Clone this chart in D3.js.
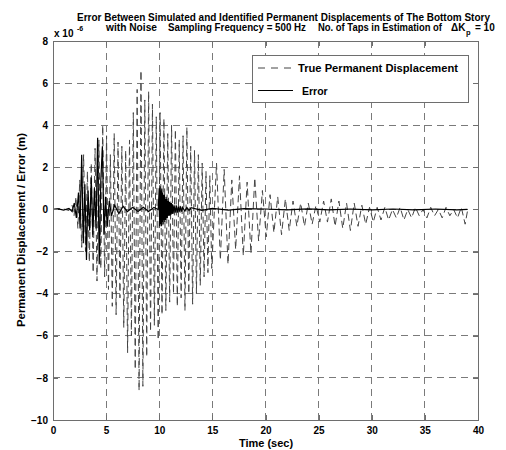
<!DOCTYPE html>
<html>
<head>
<meta charset="utf-8">
<script src="https://cdn.jsdelivr.net/npm/d3@7"></script>
<style>
  html, body { margin: 0; padding: 0; background: #fff; }
  svg { display: block; }
  text { font-family: "Liberation Sans", Arial, Helvetica, sans-serif; font-weight: bold; fill: #000; }
</style>
</head>
<body>
<svg id="chart" width="506" height="450"></svg>
<script>
// Axis ticks
const xTicks = [0, 5, 10, 15, 20, 25, 30, 35, 40];
const yTicks = [-10, -8, -6, -4, -2, 0, 2, 4, 6, 8];

// True permanent displacement (x 1e-6 m): alternating peaks/troughs of the response
const dispTime = [
  0.0, 0.8, 1.5,
  1.80, 1.98, 2.16, 2.34, 2.52, 2.70, 2.88, 3.06, 3.24, 3.42,
  3.60, 3.78, 3.96, 4.14, 4.32, 4.50, 4.68, 4.86, 5.04, 5.22,
  5.40, 5.58, 5.76, 5.94, 6.12, 6.30, 6.48, 6.66, 6.84, 7.02,
  7.20, 7.38, 7.56, 7.74, 7.92, 8.10, 8.28, 8.46, 8.64, 8.82,
  9.00, 9.18, 9.36, 9.54, 9.72, 9.90, 10.08, 10.26, 10.44, 10.62,
  10.80, 10.98, 11.16, 11.34, 11.52, 11.70, 11.88, 12.06, 12.24, 12.42,
  12.60, 12.78, 12.96, 13.14, 13.32, 13.50, 13.68, 13.86, 14.04, 14.22,
  14.40, 14.58, 14.76, 14.94,
  15.39, 15.75, 16.11, 16.47, 16.83, 17.19, 17.55, 17.91, 18.27, 18.63,
  18.99, 19.35, 19.71, 20.07, 20.43, 20.79, 21.15, 21.51, 21.87, 22.23,
  22.59, 22.95, 23.31, 23.67, 24.03, 24.39, 24.75, 25.11, 25.47, 25.83,
  26.19, 26.55, 26.91, 27.27, 27.63, 27.99, 28.35, 28.71, 29.07, 29.43,
  29.79, 30.15, 30.51, 30.87, 31.23, 31.59, 31.95, 32.31, 32.67, 33.03,
  33.39, 33.75, 34.11, 34.47, 34.83, 35.19, 35.55, 35.91, 36.27, 36.63,
  36.99, 37.35, 37.71, 38.07, 38.43, 38.79, 39.00
];
const dispValue = [
  0.0, 0.05, -0.05,
  0.2, -0.3, 0.6, -0.9, 1.4, -1.8, 2.6, -2.0, 1.8, -2.5,
  2.2, -3.0, 2.9, -3.4, 3.3, -2.8, 4.0, -3.2, 3.5, -3.8,
  2.6, -4.6, 3.6, -5.0, 3.2, -4.2, 3.0, -5.6, 2.8, -6.8,
  3.3, -6.0, 4.6, -7.6, 5.7, -8.6, 6.6, -8.4, 5.2, -7.0,
  5.6, -5.8, 5.0, -5.5, 4.4, -6.2, 4.6, -5.0, 4.3, -4.8,
  3.6, -4.4, 4.0, -4.0, 3.8, -4.6, 3.3, -4.2, 3.5, -4.8,
  3.9, -4.0, 3.0, -4.5, 2.8, -4.0, 2.6, -3.6, 2.2, -3.2,
  1.8, -3.0, 1.6, -2.8,
  2.2, -2.4, 1.9, -2.6, 1.4, -1.9, 1.6, -2.2, 1.3, -2.1,
  1.5, -1.5, 0.9, -1.3, 0.7, -1.1, 0.6, -1.2, 0.5, -1.0,
  0.4, -0.8, 0.3, -0.8, 0.3, -0.7, 0.2, -0.6, 0.4, -0.6,
  0.5, -0.8, 0.4, -0.9, 0.3, -1.0, 0.3, -0.8, 0.2, -0.7,
  0.1, -0.6, 0.1, -0.5, 0.1, -0.5, 0.0, -0.4, 0.1, -0.5,
  0.0, -0.4, 0.1, -0.3, 0.0, -0.4, 0.1, -0.3, 0.0, -0.4,
  0.1, -0.3, 0.0, -0.4, 0.1, -0.7, -0.1
];

// Identification error (x 1e-6 m)
const errTime = [
  0.0, 0.5, 1.0, 1.5, 1.8, 2.0, 2.2, 2.4, 2.55, 2.7,
  2.85, 3.0, 3.15, 3.3, 3.45, 3.6, 3.75, 3.9, 4.05, 4.2,
  4.35, 4.5, 4.65, 4.8, 4.95, 5.1, 5.3, 5.5, 5.8, 6.2,
  6.6, 7.0, 7.5, 8.0, 8.5, 9.0, 9.5, 9.9,
  10.00, 10.04, 10.08, 10.12, 10.16, 10.20, 10.24, 10.28, 10.32, 10.36,
  10.40, 10.44, 10.48, 10.52, 10.56, 10.60, 10.64, 10.68, 10.72, 10.76,
  10.80, 10.84, 10.88, 10.92, 10.96, 11.00, 11.05, 11.10, 11.15, 11.20,
  11.25, 11.30, 11.40, 11.50, 11.60, 11.70, 11.80, 11.90, 12.00, 12.10,
  12.20, 12.40, 12.60, 12.80, 13.0, 14.0, 15.0, 16.5, 18.0, 20.0,
  22.0, 24.0, 26.0, 28.0, 30.0, 32.0, 34.0, 36.0, 38.0, 39.0
];
const errValue = [
  0.0, 0.03, -0.03, 0.05, -0.1, 0.3, -0.4, 0.8, -0.9, 2.6,
  -1.6, 1.2, -2.4, 0.9, -1.0, 1.5, -1.2, 1.0, -0.9, 3.4,
  -2.6, 1.4, 3.0, -1.2, 0.6, -0.8, 0.4, -0.3, 0.2, -0.2,
  0.15, -0.1, 0.1, -0.1, 0.1, -0.1, 0.1, 0.0,
  1.0, -0.8, 1.1, -0.7, 0.9, -0.8, 1.0, -0.6, 0.8, -0.7,
  0.7, -0.5, 0.7, -0.6, 0.5, -0.5, 0.6, -0.4, 0.5, -0.4,
  0.4, -0.3, 0.4, -0.3, 0.35, -0.3, 0.3, -0.25, 0.3, -0.2,
  0.25, -0.2, 0.2, -0.15, 0.2, -0.15, 0.15, -0.1, 0.15, -0.1,
  0.1, -0.08, 0.1, -0.05, 0.08, -0.04, 0.05, -0.03, 0.04, 0.02,
  -0.02, 0.03, -0.02, 0.02, -0.02, 0.02, -0.02, 0.02, -0.02, 0.0
];

const svg = d3.select("#chart");
const margin = { left: 53, right: 28, top: 41, bottom: 30 };
const W = 506, H = 450;
const x = d3.scaleLinear().domain([0, 40]).range([margin.left, W - margin.right]);
const y = d3.scaleLinear().domain([-10, 8]).range([H - margin.bottom, margin.top]);

const axisColor = "#6e6e6e";
const gridColor = "#7a7a7a";

// Grid
const grid = svg.append("g").attr("shape-rendering", "crispEdges");
grid.selectAll(".vg").data(xTicks.slice(1, -1)).join("line")
  .attr("x1", d => x(d)).attr("x2", d => x(d))
  .attr("y1", y(8)).attr("y2", y(-10))
  .attr("stroke", gridColor).attr("stroke-dasharray", "7,5");
grid.selectAll(".hg").data(yTicks.slice(1, -1)).join("line")
  .attr("x1", x(0)).attr("x2", x(40))
  .attr("y1", d => y(d)).attr("y2", d => y(d))
  .attr("stroke", gridColor).attr("stroke-dasharray", "7,5");

// Series
const dispData = dispTime.map((t, i) => [t, dispValue[i]]);
const errData = errTime.map((t, i) => [t, errValue[i]]);
const line = d3.line().x(d => x(d[0])).y(d => y(d[1]));

svg.append("path").datum(dispData)
  .attr("d", line).attr("fill", "none")
  .attr("stroke", "#444").attr("stroke-width", 1)
  .attr("stroke-dasharray", "7,4");

svg.append("path").datum(errData)
  .attr("d", line).attr("fill", "none")
  .attr("stroke", "#000").attr("stroke-width", 1.2);

// Axes (inward ticks on all four sides)
const fmt = d3.format("d");
const axBottom = svg.append("g").attr("transform", `translate(0,${y(-10)})`)
  .call(d3.axisBottom(x).tickValues(xTicks).tickFormat(fmt).tickSizeInner(-5).tickSizeOuter(0).tickPadding(7));
const axTop = svg.append("g").attr("transform", `translate(0,${y(8)})`)
  .call(d3.axisTop(x).tickValues(xTicks).tickFormat("").tickSizeInner(-5).tickSizeOuter(0));
const axLeft = svg.append("g").attr("transform", `translate(${x(0)},0)`)
  .call(d3.axisLeft(y).tickValues(yTicks).tickFormat(fmt).tickSizeInner(-5).tickSizeOuter(0).tickPadding(5));
const axRight = svg.append("g").attr("transform", `translate(${x(40)},0)`)
  .call(d3.axisRight(y).tickValues(yTicks).tickFormat("").tickSizeInner(-5).tickSizeOuter(0));

[axBottom, axTop, axLeft, axRight].forEach(g => {
  g.attr("shape-rendering", "crispEdges");
  g.select(".domain").attr("stroke", axisColor);
  g.selectAll(".tick line").attr("stroke", axisColor);
  g.selectAll(".tick text").attr("font-size", 10).attr("font-weight", "bold")
    .attr("font-family", '"Liberation Sans", Arial, sans-serif').attr("fill", "#000");
});

// Exponent multiplier
svg.append("text").attr("x", 54).attr("y", 37).attr("font-size", 10).text("x 10");
svg.append("text").attr("x", 77).attr("y", 31).attr("font-size", 7).text("-6");

// Titles
svg.append("text").attr("x", 77).attr("y", 21).attr("font-size", 10)
  .attr("textLength", 413).attr("lengthAdjust", "spacingAndGlyphs")
  .text("Error Between Simulated and Identified Permanent Displacements of The Bottom Story");
const line2 = [
  { s: "with Noise", x: 106, w: 51 },
  { s: "Sampling Frequency = 500 Hz", x: 168, w: 138 },
  { s: "No. of Taps in Estimation of", x: 318, w: 124 }
];
line2.forEach(d => svg.append("text").attr("x", d.x).attr("y", 31).attr("font-size", 10)
  .attr("textLength", d.w).attr("lengthAdjust", "spacingAndGlyphs").text(d.s));
svg.append("text").attr("x", 451).attr("y", 31).attr("font-size", 10).text("\u0394K");
svg.append("text").attr("x", 466).attr("y", 35).attr("font-size", 7.5).text("p");
svg.append("text").attr("x", 475).attr("y", 31).attr("font-size", 10).text("= 10");

// Axis labels
svg.append("text").attr("x", 266).attr("y", 447).attr("text-anchor", "middle")
  .attr("font-size", 11).text("Time (sec)");
svg.append("text").attr("transform", "translate(25,230) rotate(-90)")
  .attr("text-anchor", "middle").attr("font-size", 11)
  .attr("textLength", 194).attr("lengthAdjust", "spacingAndGlyphs")
  .text("Permanent Displacement / Error (m)");

// Legend
const lg = svg.append("g");
lg.append("rect").attr("x", 252.5).attr("y", 55.5).attr("width", 216).attr("height", 47)
  .attr("fill", "#fff").attr("stroke", axisColor).attr("shape-rendering", "crispEdges");
lg.append("line").attr("x1", 258).attr("x2", 297).attr("y1", 68).attr("y2", 68)
  .attr("stroke", "#444").attr("stroke-dasharray", "7,6");
lg.append("line").attr("x1", 258).attr("x2", 293).attr("y1", 90.5).attr("y2", 90.5)
  .attr("stroke", "#000").attr("stroke-width", 1.2);
lg.append("text").attr("x", 298).attr("y", 72).attr("font-size", 10.5)
  .attr("textLength", 160).attr("lengthAdjust", "spacingAndGlyphs").text("True Permanent Displacement");
lg.append("text").attr("x", 302).attr("y", 95).attr("font-size", 10.5).text("Error");
</script>
</body>
</html>
